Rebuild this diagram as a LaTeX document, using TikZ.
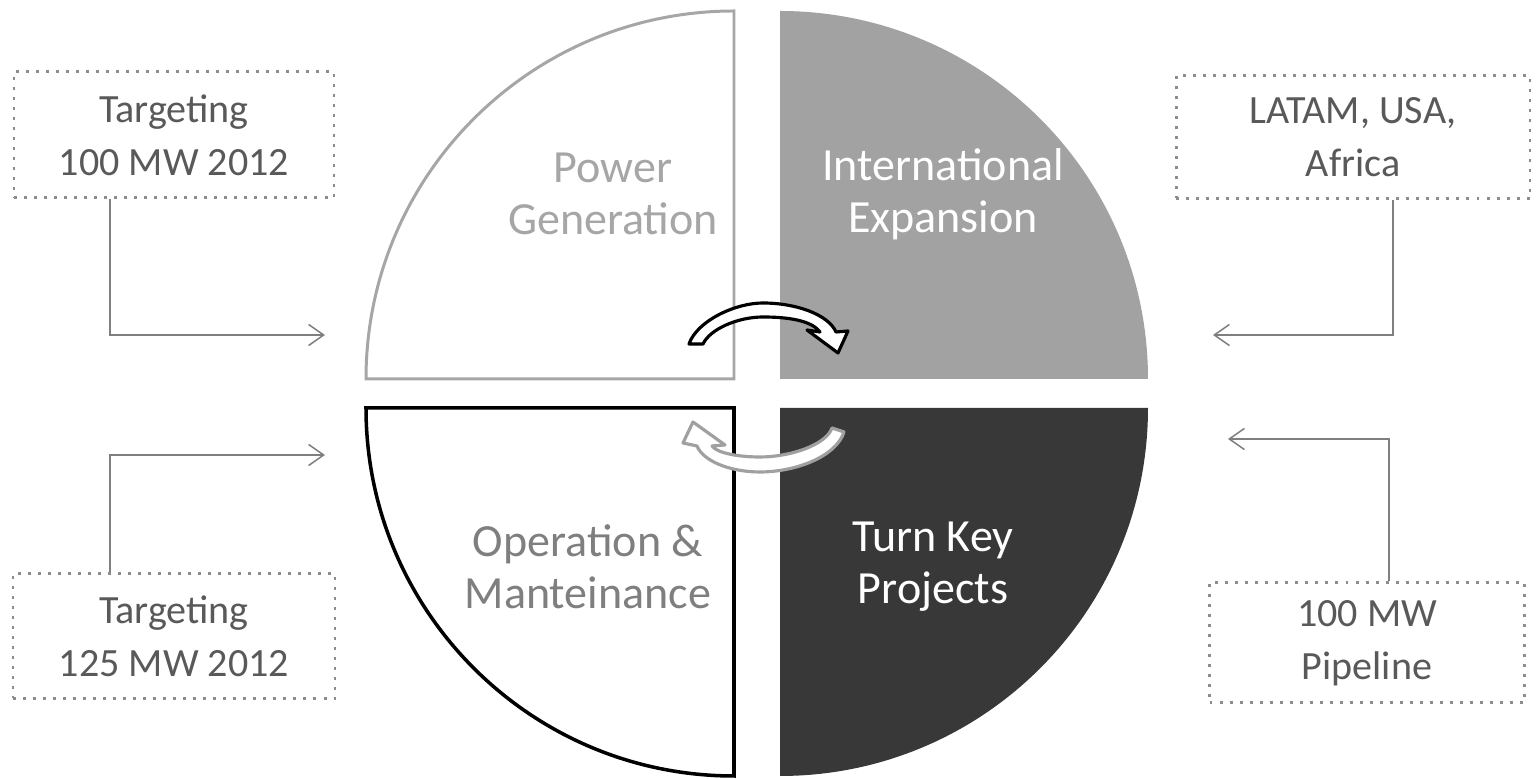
\documentclass[tikz,border=0pt]{standalone}
\usepackage{fontspec}
\setmainfont{Carlito}
\usetikzlibrary{arrows.meta}

\definecolor{pggray}{HTML}{A6A6A6}
\definecolor{iegray}{HTML}{A2A2A2}
\definecolor{tkgray}{HTML}{383838}
\definecolor{omgray}{HTML}{7F7F7F}
\definecolor{dotgray}{HTML}{8C8C8C}
\definecolor{boxtext}{HTML}{595959}
\definecolor{linegray}{HTML}{7F7F7F}
\definecolor{arrowgray}{HTML}{A0A0A0}

\begin{document}
\begin{tikzpicture}[x=0.1mm, y=0.1mm,
  infobox/.style = {draw=dotgray, line width=0.85pt, dash pattern=on 0.85pt off 2pt,
                    align=center, text=boxtext, font=\fontsize{11.4}{15}\selectfont},
  quad/.style = {align=center, font=\fontsize{13.1}{14.8}\selectfont},
  feed/.style = {draw=linegray, line width=0.43pt, -{Straight Barb[length=4.3pt, width=6pt]}}]

  \clip (0,0) rectangle (1536,779);

  % quadrants
  \draw[pggray, line width=0.85pt, fill=white] (734,400) -- (734,768) arc[start angle=90, end angle=180, radius=368] -- cycle;
  \fill[iegray] (780,400) -- (1148,400) arc[start angle=0, end angle=90, radius=368] -- cycle;
  \draw[black, line width=1pt, fill=white] (734,371) -- (366,371) arc[start angle=180, end angle=270, radius=368] -- cycle;
  \fill[tkgray] (780,371) -- (780,3) arc[start angle=270, end angle=360, radius=368] -- cycle;

  \node[quad, text=pggray] (pg) at (613,585) {Power\\Generation};
  \node[quad, text=white] (ie) at (943,585) {International\\Expansion};
  \node[quad, text=omgray] (om) at (588,212) {Operation \&\\Manteinance};
  \node[quad, text=white] (tk) at (933,212) {Turn Key\\Projects};

  % turning arrows
  \draw[black, line width=0.9pt, fill=white, line join=round]
    (689,435) .. controls (697,458) and (735,476) .. (763,476)
    .. controls (795,476) and (828,465) .. (836,447)
    -- (848,448) -- (838,426) -- (807,449) -- (820,447)
    .. controls (812,458) and (790,462) .. (763,462)
    .. controls (738,462) and (710,450) .. (703,435) -- cycle;
  \draw[arrowgray, line width=0.9pt, fill=white, line join=round]
    (844,347) .. controls (836,322) and (795,307) .. (760,307)
    .. controls (730,307) and (703,318) .. (697,333)
    -- (683,336) -- (693,357) -- (725,334) -- (712,333)
    .. controls (717,326) and (738,322) .. (760,322)
    .. controls (790,322) and (826,334) .. (832,351) -- cycle;

  % side boxes
  \node[infobox, minimum width=3.2cm, minimum height=1.26cm] (tlbox) at (174,644) {Targeting\\100 MW 2012};
  \node[infobox, minimum width=3.54cm, minimum height=1.23cm] (trbox) at (1353,642) {LATAM, USA,\\Africa};
  \node[infobox, minimum width=3.22cm, minimum height=1.25cm] (blbox) at (174,143) {Targeting\\125 MW 2012};
  \node[infobox, minimum width=3.15cm, minimum height=1.2cm] (brbox) at (1367,136) {100 MW\\Pipeline};

  \coordinate (tlknee) at (110,444);
  \coordinate (tlend) at (325,444);
  \coordinate (trknee) at (1393,444);
  \coordinate (trend) at (1213,444);
  \coordinate (blknee) at (110,324);
  \coordinate (blend) at (325,324);
  \coordinate (brknee) at (1389,340);
  \coordinate (brend) at (1228,340);

  \draw[feed] (tlbox.south -| tlknee) -- (tlknee) -- (tlend);
  \draw[feed] (trbox.south -| trknee) -- (trknee) -- (trend);
  \draw[feed] (blbox.north -| blknee) -- (blknee) -- (blend);
  \draw[feed] (brbox.north -| brknee) -- (brknee) -- (brend);
\end{tikzpicture}
\end{document}
